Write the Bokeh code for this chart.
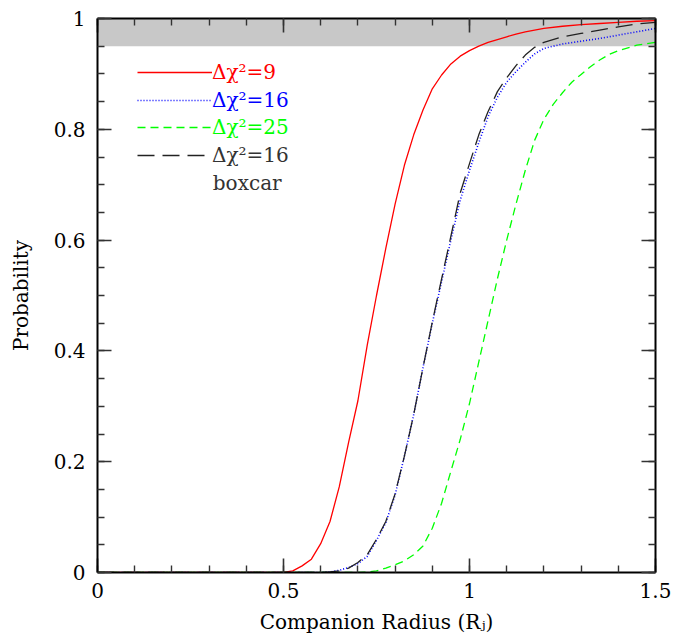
from bokeh.plotting import figure
from bokeh.models import (FixedTicker, LinearAxis, BoxAnnotation, Legend, LegendItem,
                          Label, Range1d)
from bokeh.embed import file_html
from bokeh.resources import INLINE

# ---- data ----
r_chi9 = [0.0, 0.5, 0.525, 0.55, 0.575, 0.6, 0.625, 0.65, 0.675, 0.7, 0.725, 0.75, 0.775,
          0.8, 0.825, 0.85, 0.875, 0.9, 0.925, 0.95, 0.975, 1.0, 1.025, 1.05, 1.075, 1.1,
          1.125, 1.15, 1.2, 1.25, 1.3, 1.35, 1.4, 1.45, 1.5]
p_chi9 = [0, 0, 0.003, 0.012, 0.024, 0.052, 0.092, 0.155, 0.235, 0.31, 0.41, 0.50, 0.585,
          0.665, 0.735, 0.79, 0.835, 0.873, 0.898, 0.918, 0.932, 0.942, 0.95, 0.957, 0.962,
          0.967, 0.972, 0.976, 0.982, 0.986, 0.989, 0.991, 0.993, 0.995, 0.996]

r_chi16 = [0.0, 0.6, 0.625, 0.65, 0.675, 0.7, 0.725, 0.75, 0.775, 0.8, 0.825, 0.85, 0.875,
           0.9, 0.925, 0.95, 0.975, 1.0, 1.025, 1.05, 1.075, 1.1, 1.125, 1.15, 1.175, 1.2,
           1.25, 1.3, 1.35, 1.4, 1.45, 1.5]
p_chi16 = [0, 0, 0.001, 0.004, 0.009, 0.016, 0.029, 0.058, 0.09, 0.14, 0.21, 0.285, 0.37,
           0.45, 0.525, 0.60, 0.672, 0.726, 0.776, 0.823, 0.858, 0.885, 0.904, 0.921, 0.936,
           0.946, 0.954, 0.959, 0.964, 0.970, 0.976, 0.982]
p_chi16_boxcar = [0, 0, 0.001, 0.003, 0.008, 0.018, 0.032, 0.06, 0.092, 0.142, 0.21, 0.285,
                  0.37, 0.452, 0.53, 0.607, 0.685, 0.738, 0.79, 0.832, 0.868, 0.893, 0.915,
                  0.934, 0.948, 0.957, 0.967, 0.973, 0.979, 0.985, 0.99, 0.993]

r_chi25 = [0.0, 0.7, 0.725, 0.75, 0.775, 0.8, 0.825, 0.85, 0.875, 0.9, 0.925, 0.95, 0.975,
           1.0, 1.025, 1.05, 1.075, 1.1, 1.125, 1.15, 1.175, 1.2, 1.225, 1.25, 1.275, 1.3,
           1.325, 1.35, 1.375, 1.4, 1.45, 1.5]
p_chi25 = [0, 0, 0.001, 0.003, 0.008, 0.014, 0.021, 0.032, 0.048, 0.08, 0.125, 0.183, 0.24,
           0.305, 0.38, 0.455, 0.53, 0.60, 0.665, 0.726, 0.78, 0.818, 0.845, 0.866, 0.885,
           0.899, 0.913, 0.925, 0.935, 0.942, 0.952, 0.957]

band_low, band_high = 0.95, 1.0

x_ticks = [0, 0.5, 1, 1.5]
x_tick_labels = ["0", "0.5", "1", "1.5"]
x_minor = [i / 10 for i in range(16)]
y_ticks = [0, 0.2, 0.4, 0.6, 0.8, 1]
y_tick_labels = ["0", "0.2", "0.4", "0.6", "0.8", "1"]
y_minor = [i / 20 for i in range(21)]

series_labels = ["\u0394\u03c7\u00b2=9", "\u0394\u03c7\u00b2=16", "\u0394\u03c7\u00b2=25",
                 "\u0394\u03c7\u00b2=16"]
extra_label = "boxcar"
x_title = "Companion Radius (R\u2c7c)"
y_title = "Probability"

FONT = "DejaVu Serif"
FS = "20px"

p = figure(width=688, height=637, output_backend="svg", toolbar_location=None,
           x_range=Range1d(0, 1.5), y_range=Range1d(0, 1),
           min_border_left=97, min_border_right=33, min_border_top=18, min_border_bottom=65)
p.outline_line_color = None
p.grid.visible = False
p.background_fill_color = "white"

p.add_layout(BoxAnnotation(bottom=band_low, top=band_high, fill_color="#c8c8c8",
                           fill_alpha=1.0, line_color=None, level="underlay"))

l9 = p.line(r_chi9, p_chi9, line_color="#ff0000", line_width=1.3)
l16 = p.line(r_chi16, p_chi16, line_color="#0000ff", line_width=1.6, line_dash="1 2")
l25 = p.line(r_chi25, p_chi25, line_color="#00ff00", line_width=1.3, line_dash="8 5")
lbox = p.line(r_chi16, p_chi16_boxcar, line_color="#222222", line_width=1.3, line_dash="17 8")

xt = FixedTicker(ticks=x_ticks, minor_ticks=x_minor)
yt = FixedTicker(ticks=y_ticks, minor_ticks=y_minor)

def style(ax, labels):
    ax.axis_line_color = "black"
    ax.axis_line_width = 2
    ax.major_tick_in = 14
    ax.major_tick_out = 0
    ax.minor_tick_in = 7
    ax.minor_tick_out = 0
    ax.major_tick_line_color = "#333333"
    ax.major_tick_line_width = 1.6
    ax.minor_tick_line_color = "#333333"
    ax.minor_tick_line_width = 1.4
    ax.major_label_text_font = FONT
    ax.major_label_text_font_size = FS
    ax.major_label_text_color = "black" if labels else None
    ax.axis_label_text_font = FONT
    ax.axis_label_text_font_size = FS
    ax.axis_label_text_font_style = "normal"
    ax.axis_label_text_color = "black"

xa = p.xaxis[0]
xa.ticker = xt
xa.major_label_overrides = {t: s for t, s in zip(x_ticks, x_tick_labels)}
xa.axis_label = x_title
style(xa, True)
xa.major_label_standoff = 10
xa.axis_label_standoff = 9

ya = p.yaxis[0]
ya.ticker = yt
ya.major_label_overrides = {t: s for t, s in zip(y_ticks, y_tick_labels)}
ya.axis_label = y_title
style(ya, True)
ya.major_label_standoff = 12
ya.axis_label_standoff = 18

ta = LinearAxis(ticker=xt)
style(ta, False)
p.add_layout(ta, "above")
ra = LinearAxis(ticker=yt)
style(ra, False)
p.add_layout(ra, "right")

# ---- legend: one Legend per entry so each label keeps its own colour ----
legend_colors = ["#ff0000", "#0000ff", "#00ff00", "#333333"]
renderers = [l9, l16, l25, lbox]
row_h = 26
for i, (rend, lab, col) in enumerate(zip(renderers, series_labels, legend_colors)):
    lg = Legend(items=[LegendItem(label=lab, renderers=[rend])],
                location=(40, 487 - round(i * 27.7)),
                glyph_width=75, glyph_height=row_h, label_height=row_h,
                label_standoff=0, padding=0, margin=0, spacing=0,
                border_line_color=None, background_fill_alpha=0,
                label_text_font=FONT, label_text_font_size=FS,
                label_text_color=col, label_text_baseline="middle")
    p.add_layout(lg, "center")

p.add_layout(Label(x=0.31, y=0.703, text=extra_label, text_font=FONT, text_font_size=FS,
                   text_color="#333333", text_baseline="middle"))

open("out.html", "w").write(file_html(p, INLINE))
